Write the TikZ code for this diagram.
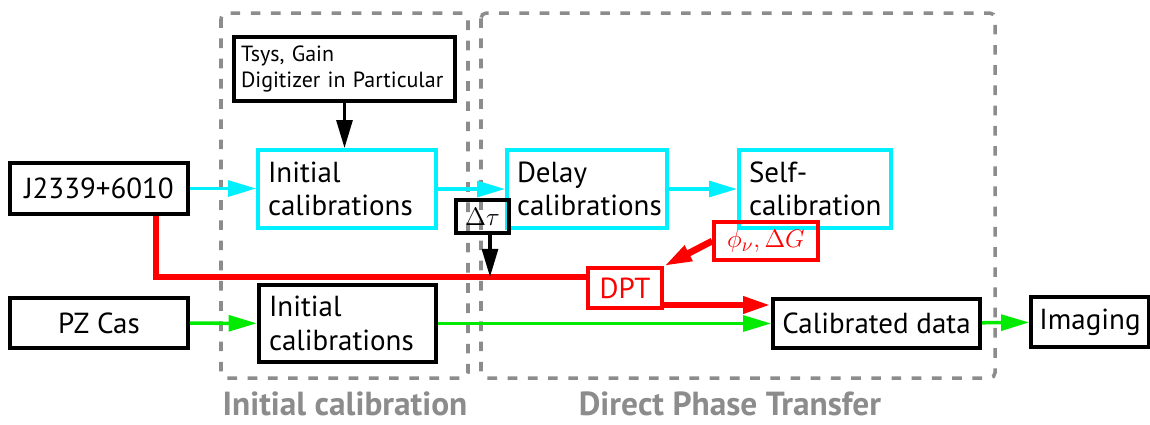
\documentclass[tikz,border=0pt]{standalone}
\usepackage{fontspec}
\setmainfont{PT Sans}
\usetikzlibrary{arrows.meta}
\definecolor{lgreen}{RGB}{0,235,0}
\definecolor{lcyan}{RGB}{0,240,255}
\definecolor{dgray}{RGB}{140,140,140}
\begin{document}
\begin{tikzpicture}[x=0.02cm,y=-0.02cm,font=\fontsize{16.5}{19}\selectfont,
	box/.style={draw,line width=2.1pt,inner sep=0pt,align=center},
	lbox/.style={draw,line width=2.1pt,inner xsep=0.2cm,inner ysep=0pt,align=left},
	tip/.style={-{Triangle[length=16pt,width=9pt]}},
	frame/.style={dgray,line width=2pt,dash pattern=on 5.5pt off 6pt,rounded corners=3pt},
	framelbl/.style={dgray,font=\fontsize{19}{21}\selectfont\bfseries},
	cyanline/.style={tip,lcyan,line width=2pt},
	greenline/.style={tip,lgreen,line width=2pt},
	redline/.style={red,line width=3.8pt},
	blackline/.style={tip,line width=2pt}]
	\useasboundingbox (0,0) rectangle (1150,424);
	% 虚线框
	\draw[frame] (221,13) rectangle (468,378);
	\draw[frame] (481,13) rectangle (995,378);
	\node[framelbl] (lblinit) at (345,404) {Initial calibration};
	\node[framelbl] (lbldpt) at (730,404) {Direct Phase Transfer};
	% 方框
	\node[box,minimum width=3.56cm,minimum height=1.02cm] (j2339) at (99,188.5) {J2339+6010};
	\node[box,minimum width=3.56cm,minimum height=1cm] (pzcas) at (99,323) {PZ Cas};
	\node[lbox,draw=lcyan,text width=3.16cm,minimum height=1.56cm] (initc) at (347,189) {Initial\\calibrations};
	\node[lbox,line width=2.6pt,text width=3.14cm,minimum height=1.54cm] (initb) at (347.5,323.5) {Initial\\calibrations};
	\node[lbox,draw=lcyan,text width=2.8cm,minimum height=1.56cm] (delay) at (587,189) {Delay\\calibrations};
	\node[lbox,draw=lcyan,text width=2.64cm,minimum height=1.56cm] (selfc) at (815,189) {Self-\\calibration};
	\node[lbox,inner xsep=0.14cm,text width=4.14cm,minimum height=1.28cm,font=\fontsize{12.5}{14.5}\selectfont] (tsys) at (344.5,69) {Tsys, Gain\\Digitizer in Particular};
	\node[box,minimum width=1.06cm,minimum height=0.66cm,font=\fontsize{15}{17}\selectfont] (dtau) at (482.5,216.5) {$\Delta\tau$};
	\node[box,draw=red,text=red,minimum width=1.48cm,minimum height=0.8cm] (dpt) at (625,288) {DPT};
	\node[box,draw=red,text=red,minimum width=2.08cm,minimum height=0.76cm,font=\fontsize{15}{17}\selectfont] (phi) at (766,241) {$\phi_\nu,\Delta G$};
	\node[box,minimum width=4.14cm,minimum height=0.98cm] (calib) at (876.5,323.5) {Calibrated data};
	\node[box,minimum width=2.36cm,minimum height=1cm] (imaging) at (1090,322) {Imaging};
	% 连线
	\coordinate (knee) at (156,277);
	\coordinate (dtauend) at (490,277);
	\draw[cyanline] (j2339.east) -- (j2339.east -| initc.west);
	\draw[cyanline] (initc.east) -- (delay.west);
	\draw[cyanline] (delay.east) -- (selfc.west);
	\draw[blackline] (tsys.south) -- (tsys.south |- initc.north);
	\draw[redline] (j2339.south -| knee) |- (dpt.west |- knee);
	\draw[blackline] (dtau.south -| dtauend) -- (dtauend);
	\draw[redline,tip] ([yshift=-0.34cm]dpt.east) -- ([yshift=-0.34cm]dpt.east -| calib.west);
	\draw[redline,tip] (phi.west) -- (dpt.north east);
	\draw[greenline] (pzcas) -- (initb);
	\draw[greenline] (initb) -- (calib);
	\draw[greenline] (calib) -- (imaging);
\end{tikzpicture}
\end{document}
